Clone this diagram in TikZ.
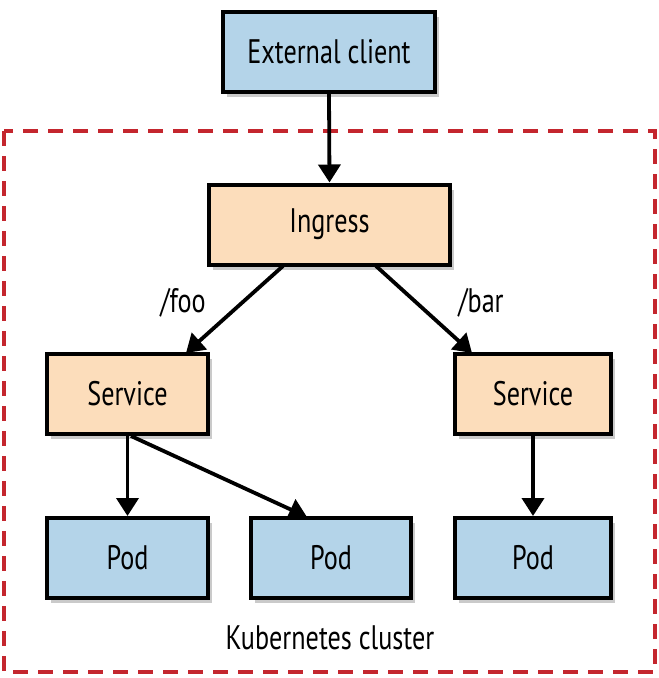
\documentclass[tikz,border=0pt]{standalone}
\usepackage{fontspec}
\setmainfont[FakeStretch=0.77]{PT Sans}
\usetikzlibrary{arrows.meta,shadows}
\definecolor{bluefill}{HTML}{B4D4E9}
\definecolor{orangefill}{HTML}{FCDDBB}
\definecolor{clusterred}{HTML}{C4262E}
\tikzset{
  box/.style={draw=black, line width=4pt, minimum height=80pt, inner sep=0pt,
    drop shadow={shadow xshift=4pt, shadow yshift=-5pt, opacity=0.35, fill=black!60},
    font=\fontsize{34}{40}\selectfont},
  bluebox/.style={box, fill=bluefill},
  orangebox/.style={box, fill=orangefill},
  conn/.style={line width=3.8pt, -{Triangle[width=22pt,length=18pt]}},
  lbl/.style={font=\fontsize{34}{40}\selectfont, inner sep=0pt}
}
\begin{document}
\begin{tikzpicture}[x=1pt,y=-1pt]
\useasboundingbox (0,0) rectangle (659,678);
\draw[clusterred, line width=4.5pt, dash pattern=on 15pt off 10pt] (4,131) rectangle (655,672);
\node[bluebox, minimum width=212pt] (ext) at (329,52) {External client};
\node[orangebox, minimum width=241pt] (ing) at (329.5,224.5) {Ingress};
\node[orangebox, minimum width=161pt] (svcl) at (127.5,394) {Service};
\node[orangebox, minimum width=156pt] (svcr) at (533,394) {Service};
\node[bluebox, minimum width=161pt] (pod1) at (127.5,558) {Pod};
\node[bluebox, minimum width=160pt] (pod2) at (331,558) {Pod};
\node[bluebox, minimum width=156pt] (pod3) at (533,558) {Pod};
\node[lbl] (kc) at (330,638) {Kubernetes cluster};
\node[lbl] (foo) at (183,303) {/foo};
\node[lbl] (bar) at (481,303) {/bar};
\coordinate (ingL) at (283,266);
\coordinate (ingR) at (376,266);
\coordinate (svlT) at (186,353);
\coordinate (svrT) at (472,353);
\coordinate (svlB) at (131,436);
\coordinate (p2T) at (307,517);
\draw[conn] (ext.south) -- (ing.north);
\draw[conn] (ingL) -- (svlT);
\draw[conn] (ingR) -- (svrT);
\draw[conn] (svcl.south -| pod1.north) -- (pod1.north);
\draw[conn] (svlB) -- (p2T);
\draw[conn] (svcr.south) -- (pod3.north);
\end{tikzpicture}
\end{document}
